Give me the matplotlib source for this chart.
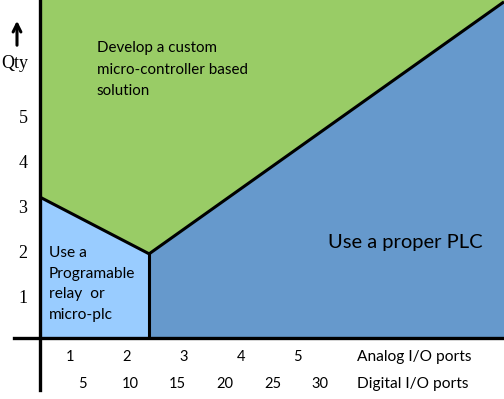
import numpy as np
import matplotlib
matplotlib.use("Agg")
import matplotlib.pyplot as plt
from matplotlib.transforms import blended_transform_factory

# x axis: digital I/O ports, y axis: quantity
qty_ticks = [1, 2, 3, 4, 5]
analog_ticks = [1, 2, 3, 4, 5]
digital_ticks = [5, 10, 15, 20, 25, 30]

# boundary between the regions (digital ports, qty)
relay_x = [0.5, 12.0]
relay_top = [3.13, 1.87]
plc_x = [12.0, 49.4]
plc_top = [1.87, 7.47]

x_min, x_max = 0.5, 49.4
y_min, y_max = 0.0, 7.51

green = "#99CC66"
light_blue = "#99CCFF"
blue = "#6699CC"
txt_font = ["Lato", "DejaVu Sans"]
num_font = ["Liberation Serif", "DejaVu Serif"]

fig = plt.figure(figsize=(5.04, 3.99), dpi=100)
ax = fig.add_axes([40 / 504, 61 / 399, 464 / 504, 338 / 399])
ax.set_xlim(x_min, x_max)
ax.set_ylim(y_min, y_max)
ax.axis("off")

# regions
ax.fill_between([x_min, x_max], y_min, y_max, color=green, lw=0)
ax.fill_between(relay_x, y_min, relay_top, color=light_blue, lw=0)
ax.fill_between(plc_x, y_min, plc_top, color=blue, lw=0)

# boundary lines
ax.plot(relay_x, relay_top, color="black", lw=2.2, solid_capstyle="butt")
ax.plot(plc_x, plc_top, color="black", lw=2.2, solid_capstyle="butt", clip_on=False)
ax.plot([relay_x[1], relay_x[1]], [y_min, relay_top[1]], color="black", lw=2.2)

# axis lines
ax.plot([-26 / 464, 1], [0, 0], color="black", lw=2.4, transform=ax.transAxes, clip_on=False)
ax.plot([0, 0], [-52 / 338, 1], color="black", lw=2.4, transform=ax.transAxes, clip_on=False)

# y labels (hand placed in the original, sit a bit low)
ty = blended_transform_factory(ax.transAxes, ax.transData)
for q in qty_ticks:
    ax.text(-17 / 464, q - 0.13, str(q), transform=ty, ha="center", va="center",
            fontsize=13, family=num_font)
ax.text(-25 / 464, 6.11, "Qty", transform=ty, ha="center", va="center",
        fontsize=13, family=num_font)
ax.annotate("", xy=(17, 381), xytext=(17, 351), xycoords="figure pixels",
            arrowprops=dict(arrowstyle="->", lw=2.2, color="black", mutation_scale=14))

# x labels: analog row and digital row
tx = blended_transform_factory(ax.transData, ax.transAxes)
for a in analog_ticks:
    ax.text(6 * a - 2.35, -19 / 338, str(a), transform=tx, ha="center", va="center",
            fontsize=10.5, family=txt_font)
for d in digital_ticks:
    ax.text(d, -46 / 338, str(d), transform=tx, ha="center", va="center",
            fontsize=10.5, family=txt_font)
ax.text(33.9, -19 / 338, "Analog I/O ports", transform=tx, ha="left", va="center",
        fontsize=11.2, family=txt_font)
ax.text(33.9, -46 / 338, "Digital I/O ports", transform=tx, ha="left", va="center",
        fontsize=11.2, family=txt_font)

# region labels
ax.text(6.5, 5.96, "Develop a custom\nmicro-controller based\nsolution", ha="left", va="center",
        fontsize=10.9, family=txt_font, linespacing=1.7)
ax.text(1.4, 1.2, "Use a\nProgramable\nrelay  or\nmicro-plc", ha="left", va="center",
        fontsize=11.2, family=txt_font, linespacing=1.6)
ax.text(39.0, 2.13, "Use a proper PLC", ha="center", va="center",
        fontsize=14.5, family=txt_font)

fig.savefig("out.png", dpi=100)
